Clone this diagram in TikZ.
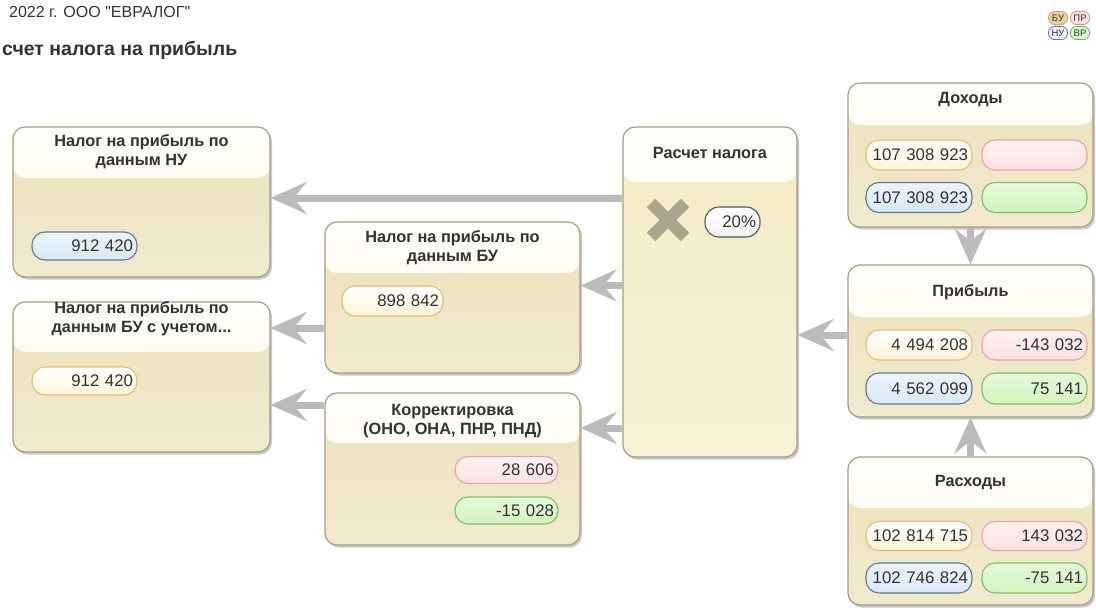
\documentclass[tikz,border=0pt]{standalone}
\usepackage{fontspec}
\setmainfont{Liberation Sans}
\newfontfamily\plainfont{Liberation Sans}
\usetikzlibrary{arrows.meta,shadows,calc}
\definecolor{boxline}{HTML}{A89C84}
\definecolor{headtop}{HTML}{FFFEF9}
\definecolor{headbot}{HTML}{FBF6E6}
\definecolor{bodytop}{HTML}{EBE1BA}
\definecolor{bodybot}{HTML}{F1EACF}
\definecolor{calctop}{HTML}{F4ECC4}
\definecolor{calcbot}{HTML}{F7F1D6}
\definecolor{txt}{HTML}{333333}
\definecolor{arrcol}{HTML}{BBBBBB}
\definecolor{xcol}{HTML}{ABA58C}
\definecolor{yelline}{HTML}{E2BE78}
\definecolor{yelfill}{HTML}{FFF4D8}
\definecolor{redline}{HTML}{E6A3A3}
\definecolor{redfill}{HTML}{FDE2E2}
\definecolor{bluline}{HTML}{627A92}
\definecolor{blufill}{HTML}{D9E8F7}
\definecolor{grnline}{HTML}{80BE66}
\definecolor{grnfill}{HTML}{D3F4BF}
\definecolor{wline}{HTML}{555555}
\definecolor{wfill}{HTML}{F4F4F4}
\begin{document}
\begin{tikzpicture}[x=1pt,y=-1pt,
  box/.style={draw=boxline, line width=1.2pt, rounded corners=12pt, inner sep=0pt,
    top color=bodytop, bottom color=bodybot,
    drop shadow={shadow xshift=2pt, shadow yshift=-2.5pt, opacity=0.3, fill=black!70},
    path picture={\shade[top color=headtop, bottom color=headbot]
      (path picture bounding box.north west) rectangle ([yshift=-#1]path picture bounding box.north east);}},
  calcbox/.style={box=#1, top color=calctop, bottom color=calcbot},
  title/.style={align=center, text=txt, font=\bfseries\fontsize{16.3}{19}\selectfont, inner sep=0pt},
  pill/.style={draw, line width=1.1pt, rounded corners=13pt, minimum height=28pt,
    inner xsep=4pt, inner ysep=0pt, align=right, text=txt, font=\fontsize{16.8}{18}\selectfont},
  ypill/.style={pill, draw=yelline, top color=white, bottom color=yelfill},
  rpill/.style={pill, draw=redline, top color=redfill!50!white, bottom color=redfill},
  bpill/.style={pill, draw=bluline, top color=blufill!50!white, bottom color=blufill},
  gpill/.style={pill, draw=grnline, top color=grnfill!60!white, bottom color=grnfill},
  wpill/.style={pill, draw=wline, top color=white, bottom color=wfill},
  leg/.style={draw, line width=0.8pt, rounded corners=6pt, minimum width=19pt, minimum height=13pt,
    inner sep=0pt, text=txt, font=\fontsize{9.5}{9.5}\selectfont},
  arr/.style={draw=arrcol, line width=7pt, -{Stealth[length=36pt,width=32pt,inset=13pt]}}
]
\useasboundingbox (0,0) rectangle (1096,610);

% header texts
\node[anchor=west, text=txt, font=\plainfont\fontsize{16}{18}\selectfont, inner sep=0pt] (hdr) at (9,12) {2022 г. ООО "ЕВРАЛОГ"};
\node[anchor=west, text=txt, font=\bfseries\fontsize{19.5}{22}\selectfont, inner sep=0pt] (ttl) at (2,50) {счет налога на прибыль};

% legend
\node[leg, fill=yelline!70, draw=yelline!90!black] (lbu) at (1058,18) {БУ};
\node[leg, fill=redfill, draw=redline!90!black] (lpr) at (1080,18) {ПР};
\node[leg, fill=blufill!80!blue!20, draw=bluline] (lnu) at (1058,33) {НУ};
\node[leg, fill=grnfill!70!green!40, draw=grnline!90!black] (lvr) at (1080,33) {ВР};

% boxes
\node[box=51pt, minimum width=257pt, minimum height=150pt] (nu) at (141.5,202) {};
\node[box=50pt, minimum width=257pt, minimum height=150pt] (buu) at (141.5,377) {};
\node[box=51pt, minimum width=255pt, minimum height=151pt] (bu) at (452.5,297.5) {};
\node[box=50pt, minimum width=255pt, minimum height=152pt] (korr) at (452.5,469) {};
\node[calcbox=55pt, minimum width=174pt, minimum height=330pt] (calc) at (710,292) {};
\node[box=42pt, minimum width=245pt, minimum height=144pt] (dox) at (970.5,155) {};
\node[box=52pt, minimum width=245pt, minimum height=152pt] (prib) at (970.5,341) {};
\node[box=51pt, minimum width=245pt, minimum height=148pt] (rash) at (970.5,531) {};

% titles
\node[title] (nut) at (141.5,152) {Налог на прибыль по\\данным НУ};
\node[title] (buut) at (141.5,319) {Налог на прибыль по\\данным БУ с учетом...};
\node[title] (but) at (452.5,247.5) {Налог на прибыль по\\данным БУ};
\node[title] (korrt) at (452.5,421) {Корректировка\\(ОНО, ОНА, ПНР, ПНД)};
\node[title] (calct) at (710,153) {Расчет налога};
\node[title] (doxt) at (970.5,100) {Доходы};
\node[title] (pribt) at (970.5,292) {Прибыль};
\node[title] (rasht) at (970.5,483) {Расходы};

% pills
\node[bpill, text width=97pt] (p1) at (84.5,246) {912 420};
\node[ypill, text width=97pt] (p2) at (84.5,381) {912 420};
\node[ypill, text width=93pt, minimum height=30pt] (p3) at (392.5,301) {898 842};
\node[rpill, text width=95pt, minimum height=27pt] (p4a) at (506.5,470) {28 606};
\node[gpill, text width=95pt, minimum height=27pt] (p4b) at (506.5,510.5) {-15 028};
\node[wpill, text width=47pt, minimum height=30pt, rounded corners=14pt] (p5) at (732.5,222) {20\%};

\node[ypill, text width=98pt, minimum height=30pt] (d1) at (919,155) {107 308 923};
\node[rpill, text width=97pt, minimum height=30pt] (d2) at (1034.5,155) {};
\node[bpill, text width=98pt, minimum height=30pt] (d3) at (919,197.5) {107 308 923};
\node[gpill, text width=97pt, minimum height=30pt] (d4) at (1034.5,197.5) {};

\node[ypill, text width=98pt, minimum height=30pt] (r1) at (919,345) {4 494 208};
\node[rpill, text width=97pt, minimum height=30pt] (r2) at (1034.5,345) {-143 032};
\node[bpill, text width=98pt, minimum height=31pt] (r3) at (919,388.5) {4 562 099};
\node[gpill, text width=97pt, minimum height=31pt] (r4) at (1034.5,388.5) {75 141};

\node[ypill, text width=98pt, minimum height=29pt] (s1) at (919,536) {102 814 715};
\node[rpill, text width=97pt, minimum height=29pt] (s2) at (1034.5,536) {143 032};
\node[bpill, text width=98pt, minimum height=30pt] (s3) at (919,578) {102 746 824};
\node[gpill, text width=97pt, minimum height=30pt] (s4) at (1034.5,578) {-75 141};

% X icon
\draw[xcol, line width=12pt] (651,203) -- (685,237) (651,237) -- (685,203);

% connector coordinates
\coordinate (a1) at ($(nu.east)+(0,-4)$);
\coordinate (a2) at ($(bu.east)+(0,-12)$);
\coordinate (a3) at ($(korr.east)+(0,-41)$);
\coordinate (a4) at ($(buu.east)+(0,-49)$);
\coordinate (a5) at ($(buu.east)+(0,28)$);
\coordinate (a6) at ($(calc.east)+(0,43)$);

% connectors
\draw[arr] (calc.west |- a1) -- (a1);
\draw[arr] (calc.west |- a2) -- (a2);
\draw[arr] (calc.west |- a3) -- (a3);
\draw[arr] (bu.west |- a4) -- (a4);
\draw[arr] (korr.west |- a5) -- (a5);
\draw[arr] (prib.west |- a6) -- (a6);
\draw[arr] (dox.south) -- (prib.north);
\draw[arr] (rash.north) -- (prib.south);
\end{tikzpicture}
\end{document}
